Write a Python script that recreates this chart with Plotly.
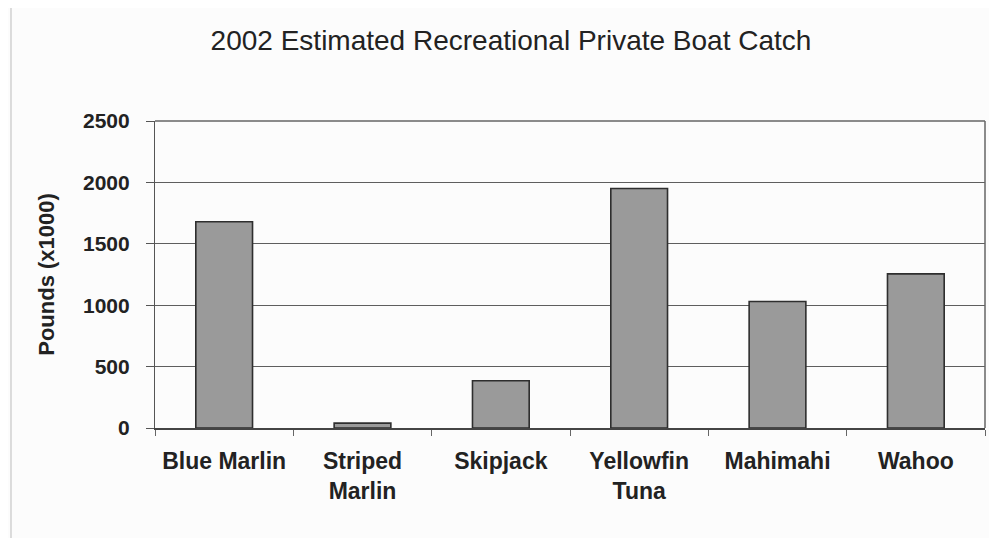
import plotly.graph_objects as go

categories = ["Blue Marlin", "Striped<br>Marlin", "Skipjack", "Yellowfin<br>Tuna", "Mahimahi", "Wahoo"]
values = [1680, 40, 385, 1950, 1030, 1255]
y_ticks = [0, 500, 1000, 1500, 2000, 2500]

fig = go.Figure()
fig.add_trace(go.Bar(
    x=categories, y=values,
    marker=dict(color="#9a9a9a", line=dict(color="#2e2e2e", width=1.6)),
))

font = "Liberation Sans, Arial, sans-serif"
# page has an 8px body margin, so the figure is sized/placed to compensate
W, H = 989, 530
fig.update_layout(
    width=W, height=H,
    margin=dict(l=147, r=12, t=113, b=110),
    paper_bgcolor="#fcfcfc", plot_bgcolor="#fcfcfc",
    bargap=0.59,
    showlegend=False,
    title=dict(text="2002 Estimated Recreational Private Boat Catch",
               x=(511 - 8) / W, xanchor="center", y=1 - (40 - 8) / H, yanchor="middle",
               font=dict(family=font, size=28, color="#222")),
    xaxis=dict(
        showgrid=False, showline=True, linecolor="#444", linewidth=1.5,
        ticks="outside", tickson="boundaries", ticklen=6, tickcolor="#666",
        ticklabelstandoff=12,
        tickfont=dict(family=font, size=23, color="#222", weight="bold"),
        mirror=False,
    ),
    yaxis=dict(
        range=[0, 2500], tickvals=y_ticks, showgrid=True, gridcolor="#5e5e5e", gridwidth=1,
        showline=True, linecolor="#555", linewidth=1.2,
        ticks="outside", ticklen=8, tickcolor="#555",
        ticklabelstandoff=12,
        tickfont=dict(family=font, size=21, color="#222", weight="bold"),
        title=dict(text="Pounds (x1000)", standoff=22,
                   font=dict(family=font, size=22, color="#222", weight="bold")),
        zeroline=False,
    ),
)
# plot-area border on top and right
fig.add_shape(type="line", xref="paper", yref="paper", x0=0, x1=1, y0=1, y1=1,
              line=dict(color="#666", width=1.5))
fig.add_shape(type="line", xref="paper", yref="paper", x0=1, x1=1, y0=0, y1=1,
              line=dict(color="#666", width=1.5))
# faint outer chart border at left
fig.add_shape(type="line", xref="paper", yref="paper",
              x0=(11 - 155) / 830, x1=(11 - 155) / 830, y0=-0.4, y1=1.4,
              line=dict(color="#bbb", width=1))

fig.write_html("out.html")
